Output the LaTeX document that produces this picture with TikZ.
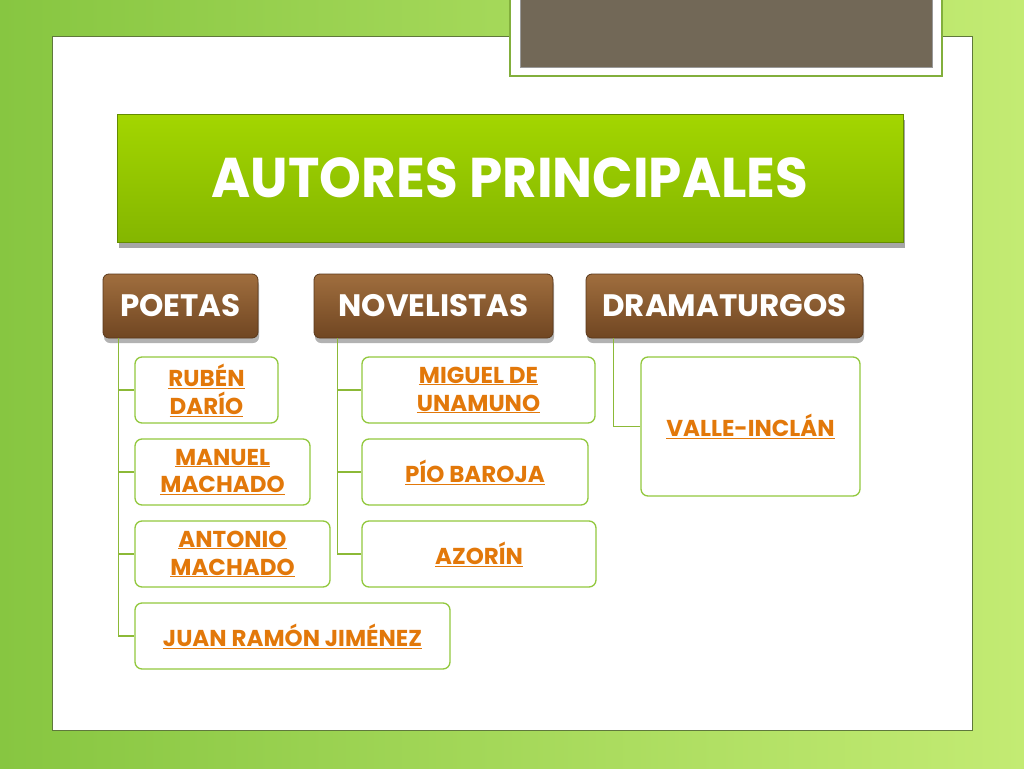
\documentclass[tikz,border=0pt]{standalone}
\usepackage{fontspec}
\usepackage{graphicx}
\setmainfont{Poppins}
\usetikzlibrary{shadows}

\definecolor{bgleft}{RGB}{135,198,65}
\definecolor{bgright}{RGB}{195,235,115}
\definecolor{panelline}{RGB}{95,120,60}
\definecolor{framegreen}{RGB}{130,175,60}
\definecolor{holder}{RGB}{114,104,87}
\definecolor{titletop}{RGB}{163,214,0}
\definecolor{titlebot}{RGB}{132,182,0}
\definecolor{titleline}{RGB}{100,140,0}
\definecolor{browntop}{RGB}{160,110,62}
\definecolor{brownbot}{RGB}{112,70,34}
\definecolor{brownline}{RGB}{90,56,26}
\definecolor{boxline}{RGB}{146,200,62}
\definecolor{linkorange}{RGB}{226,120,10}
\definecolor{connline}{RGB}{140,185,55}

\newcommand{\lnk}[1]{\underline{#1}}

\tikzset{
  titlebox/.style={draw=titleline, line width=1pt, top color=titletop, bottom color=titlebot,
    minimum width=786pt, minimum height=128pt, text=white,
    font=\fontsize{56}{60}\selectfont\bfseries,
    drop shadow={shadow xshift=2pt, shadow yshift=-6pt, fill=black, opacity=0.35}},
  headbox/.style={draw=brownline, line width=0.8pt, rounded corners=6pt,
    top color=browntop, bottom color=brownbot, minimum height=64pt, text=white,
    font=\fontsize{31}{34}\selectfont\bfseries,
    drop shadow={shadow xshift=1pt, shadow yshift=-5pt, fill=black, opacity=0.3}},
  authorbox/.style={draw=boxline, line width=1.3pt, rounded corners=7pt, fill=white,
    minimum height=66pt, text=linkorange, align=center,
    font=\fontsize{23}{28}\selectfont\bfseries},
  conn/.style={draw=connline, line width=1.5pt}
}

\begin{document}
\begin{tikzpicture}[x=1pt,y=-1pt]
\useasboundingbox (0,0) rectangle (1024,768);
% background and slide
\shade[left color=bgleft, right color=bgright] (0,0) rectangle (1024,768);
\filldraw[fill=white, draw=panelline, line width=1pt] (52,37) rectangle (972,730);
\filldraw[fill=white, draw=framegreen, line width=1.5pt] (510,-2) rectangle (942,76);
\filldraw[fill=holder, draw=black!40, line width=0.5pt] (520,-2) rectangle (932,67);

\node[titlebox] (title) at (510,178) {\scalebox{0.95}[1]{AUTORES PRINCIPALES}};

\node[headbox, minimum width=155pt] (poetas) at (180.5,306) {POETAS};
\node[headbox, minimum width=239pt] (novelistas) at (433.5,306) {NOVELISTAS};
\node[headbox, minimum width=277pt] (dramaturgos) at (724.5,306) {DRAMATURGOS};

\node[authorbox, minimum width=143pt] (ruben) at (206.5,390) {\lnk{RUBÉN}\\\lnk{DARÍO}};
\node[authorbox, minimum width=175pt] (manuel) at (222.5,472) {\lnk{MANUEL}\\\lnk{MACHADO}};
\node[authorbox, minimum width=195pt] (antonio) at (232.5,554) {\lnk{ANTONIO}\\\lnk{MACHADO}};
\node[authorbox, minimum width=315pt] (juan) at (292.5,636) {\lnk{JUAN RAMÓN JIMÉNEZ}};
\node[authorbox, minimum width=233pt] (miguel) at (478.5,390) {\lnk{MIGUEL DE}\\\lnk{UNAMUNO}};
\node[authorbox, minimum width=226pt] (pio) at (475,472) {\lnk{PÍO BAROJA}};
\node[authorbox, minimum width=234pt] (azorin) at (479,554) {\lnk{AZORÍN}};
\node[authorbox, minimum width=219pt, minimum height=139pt] (valle) at (750.5,426.5) {\lnk{VALLE-INCLÁN}};

% connectors
\draw[conn] ([xshift=16pt]poetas.south west) |- (ruben.west);
\draw[conn] ([xshift=16pt]poetas.south west) |- (manuel.west);
\draw[conn] ([xshift=16pt]poetas.south west) |- (antonio.west);
\draw[conn] ([xshift=16pt]poetas.south west) |- (juan.west);
\draw[conn] ([xshift=24pt]novelistas.south west) |- (miguel.west);
\draw[conn] ([xshift=24pt]novelistas.south west) |- (pio.west);
\draw[conn] ([xshift=24pt]novelistas.south west) |- (azorin.west);
\draw[conn] ([xshift=28pt]dramaturgos.south west) |- (valle.west);
\end{tikzpicture}
\end{document}
